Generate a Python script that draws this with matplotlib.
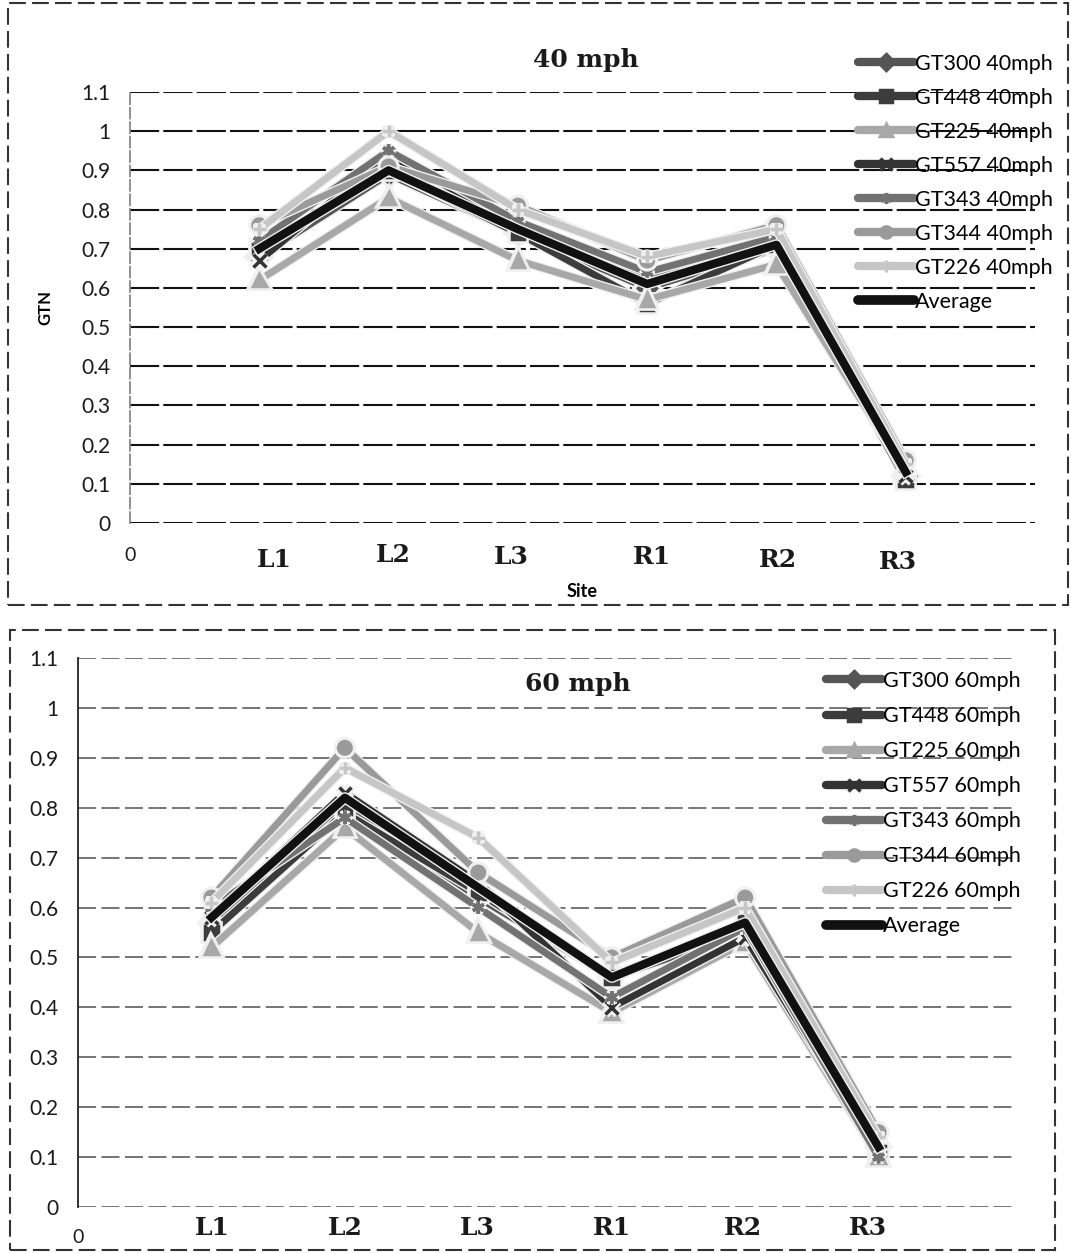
import numpy as np
import matplotlib
matplotlib.use('Agg')
import matplotlib.pyplot as plt
import matplotlib.patheffects as pe
from matplotlib.patches import Rectangle
from matplotlib.lines import Line2D
from matplotlib.transforms import blended_transform_factory

SITES = ['L1', 'L2', 'L3', 'R1', 'R2', 'R3']
SERIES = ['GT300', 'GT448', 'GT225', 'GT557', 'GT343', 'GT344', 'GT226', 'Average']

# GTN per site, 40 mph
gt300_40 = [0.68, 0.89, 0.74, 0.60, 0.70, 0.12]
gt448_40 = [0.70, 0.90, 0.74, 0.56, 0.71, 0.11]
gt225_40 = [0.62, 0.83, 0.67, 0.57, 0.66, 0.13]
gt557_40 = [0.67, 0.94, 0.76, 0.62, 0.72, 0.12]
gt343_40 = [0.72, 0.95, 0.77, 0.64, 0.73, 0.14]
gt344_40 = [0.76, 0.91, 0.81, 0.67, 0.76, 0.16]
gt226_40 = [0.75, 1.00, 0.80, 0.68, 0.75, 0.15]
avg_40 = [0.70, 0.90, 0.75, 0.61, 0.71, 0.13]

# GTN per site, 60 mph
gt300_60 = [0.57, 0.80, 0.62, 0.46, 0.55, 0.12]
gt448_60 = [0.55, 0.79, 0.63, 0.46, 0.57, 0.11]
gt225_60 = [0.52, 0.76, 0.55, 0.39, 0.53, 0.10]
gt557_60 = [0.58, 0.83, 0.65, 0.40, 0.54, 0.11]
gt343_60 = [0.60, 0.78, 0.60, 0.42, 0.56, 0.10]
gt344_60 = [0.62, 0.92, 0.67, 0.50, 0.62, 0.15]
gt226_60 = [0.61, 0.88, 0.74, 0.49, 0.60, 0.14]
avg_60 = [0.58, 0.82, 0.64, 0.46, 0.57, 0.12]

DATA_40 = [gt300_40, gt448_40, gt225_40, gt557_40, gt343_40, gt344_40, gt226_40, avg_40]
DATA_60 = [gt300_60, gt448_60, gt225_60, gt557_60, gt343_60, gt344_60, gt226_60, avg_60]
YTICKS = [0, 0.1, 0.2, 0.3, 0.4, 0.5, 0.6, 0.7, 0.8, 0.9, 1, 1.1]

COLORS = ['#555555', '#3c3c3c', '#a8a8a8', '#333333', '#727272', '#9a9a9a', '#c6c6c6', '#111111']
MARKERS = ['D', 's', '^', 'x', (6, 2, 0), 'o', '+', None]
LW = [5, 5, 5, 5, 5, 5, 5, 6]

SERIF = 'DejaVu Serif'
SANS = 'Lato'


def draw_panel(fig, rect, data, speed, grid_style, title_xy, legend_xy, label_dx, label_y,
               zero_y, leg_space, ylabel=None, xlabel_y=None):
    ax = fig.add_axes(rect)
    x = np.arange(1, len(SITES) + 1)
    for s, vals, c, m, lw in zip(SERIES, data, COLORS, MARKERS, LW):
        lab = 'Average' if s == 'Average' else f'{s} {speed}'
        ax.plot(x, vals, color=c, lw=lw, marker=m, ms=9, mew=2.5, mec=c, label=lab,
                path_effects=[pe.Stroke(linewidth=lw + 2, foreground='#f0f0f0'), pe.Normal()],
                zorder=3)
    for t in YTICKS:
        ax.axhline(t, color=grid_style['color'], lw=grid_style['lw'],
                   ls=grid_style['ls'], zorder=1)
    ax.set_xlim(0, 7)
    ax.set_ylim(0, 1.1)
    ax.set_yticks(YTICKS)
    ax.set_yticklabels([f'{t:g}' for t in YTICKS], fontsize=15, family=SANS, color='#1a1a1a')
    ax.tick_params(axis='y', length=0, pad=14)
    ax.set_xticks([])
    for sp in ['top', 'right', 'bottom']:
        ax.spines[sp].set_visible(False)
    ax.spines['left'].set_color(grid_style['spine'])
    ax.spines['left'].set_linestyle(grid_style['spine_ls'])
    ax.spines['left'].set_linewidth(1.3)

    tr = blended_transform_factory(ax.transData, ax.transAxes)
    for i, (s, dx) in enumerate(zip(SITES, label_dx)):
        ax.text(i + 1 + dx, label_y[i], s, transform=tr, ha='center', va='center',
                fontsize=18, fontweight='bold', family=SERIF, color='#1a1a1a')
    ax.text(0, zero_y, '0', transform=tr, ha='center', va='center',
            fontsize=14, family=SANS, color='#1a1a1a')

    fig.text(title_xy[0], title_xy[1], f'{speed[:2]} mph', ha='center', va='center',
             fontsize=18, fontweight='bold', family=SERIF, color='#1a1a1a')
    if ylabel:
        ax.set_ylabel(ylabel, fontsize=12, fontweight='bold', family=SANS, labelpad=20)
    if xlabel_y is not None:
        ax.text(3.5, xlabel_y, 'Site', transform=tr, ha='center', va='center',
                fontsize=13, fontweight='bold', family=SANS)

    handles = []
    for s, c, m, lw in zip(SERIES, COLORS, MARKERS, LW):
        handles.append(Line2D([], [], color=c, lw=lw + 1, marker=m, ms=8, mew=2.5, mec=c,
                              solid_capstyle='round'))
    labels = ['Average' if s == 'Average' else f'{s} {speed}' for s in SERIES]
    fig.legend(handles, labels, loc='upper left', bbox_to_anchor=legend_xy,
               bbox_transform=fig.transFigure, frameon=False,
               handlelength=2.6, handletextpad=0.05, labelspacing=leg_space,
               borderpad=0, borderaxespad=0, prop={'family': SANS, 'size': 15.5})
    return ax


fig = plt.figure(figsize=(10.71, 12.53), dpi=100, facecolor='white')
W, H = 1071, 1253


def fx(p):
    return p / W


def fy(p):
    return 1 - p / H


top_grid = {'color': '#111111', 'lw': 1.5, 'ls': (0, (14, 2)), 'spine': '#888888', 'spine_ls': (0, (6, 2))}
bot_grid = {'color': '#6a6a6a', 'lw': 1.3, 'ls': (0, (10, 3)), 'spine': '#222222', 'spine_ls': '-'}

draw_panel(fig, [fx(130), fy(523), fx(1035 - 130), (523 - 92) / H], DATA_40, '40mph',
           top_grid, (fx(586), fy(60)), (fx(858), fy(54)),
           [0.12, 0.04, -0.05, 0.04, 0.01, -0.06],
           [-0.085, -0.075, -0.08, -0.08, -0.085, -0.09], -0.075, 0.65,
           ylabel='GTN', xlabel_y=-0.16)

draw_panel(fig, [fx(78), fy(1207), fx(1012 - 78), (1207 - 658) / H], DATA_60, '60mph',
           bot_grid, (fx(578), fy(684)), (fx(826), fy(671)),
           [0.01, 0.0, -0.01, 0.0, -0.02, -0.08],
           [-0.038, -0.038, -0.038, -0.038, -0.038, -0.038], -0.055, 0.7)

# scanned-page frames around each chart
fig.add_artist(Rectangle((fx(8), fy(605)), fx(1068 - 8), (605 - 3) / H, transform=fig.transFigure,
                         fill=False, ec='#333333', lw=1.5, ls=(0, (8, 3))))
fig.add_artist(Rectangle((fx(10), fy(1250)), fx(1055 - 10), (1250 - 630) / H, transform=fig.transFigure,
                         fill=False, ec='#333333', lw=1.5, ls=(0, (8, 3))))

fig.savefig('out.png', dpi=100, facecolor='white')
